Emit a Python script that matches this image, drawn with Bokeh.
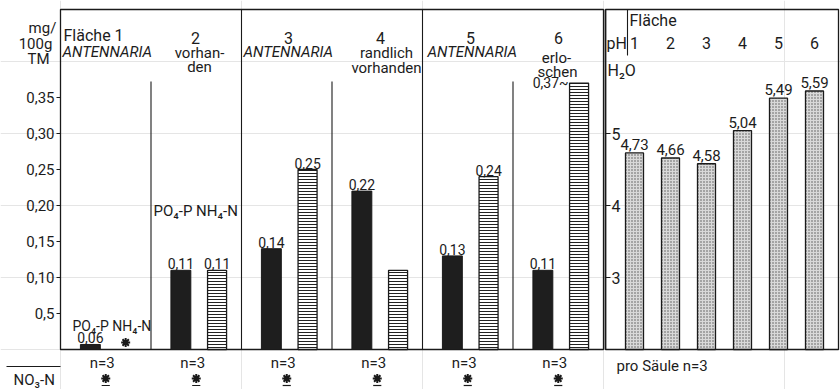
from bokeh.plotting import figure
from bokeh.models import Range1d, LinearAxis, FixedTicker, ColumnDataSource
from bokeh.core.properties import value
from bokeh.embed import file_html
from bokeh.resources import INLINE
import numpy as np

# ---------------- data ----------------
flaeche = ["1", "2", "3", "4", "5", "6"]
po4_p = [0.007, 0.11, 0.14, 0.22, 0.13, 0.11]
po4_p_labels = ["0,06", "0,11", "0,14", "0,22", "0,13", "0,11"]
nh4_n = [0.0, 0.11, 0.25, 0.11, 0.24, 0.37]
nh4_n_labels = ["", "0,11", "0,25", "", "0,24", "0,37"]
nh4_n_detected = [False, True, True, True, True, True]
no3_n_detected = [False, False, False, False, False, False]
ph_h2o = [4.73, 4.66, 4.58, 5.04, 5.49, 5.59]
ph_labels = ["4,73", "4,66", "4,58", "5,04", "5,49", "5,59"]
n_per_group = [3, 3, 3, 3, 3, 3]
mg_ticks = [0.05, 0.10, 0.15, 0.20, 0.25, 0.30, 0.35]
mg_tick_labels = ["0,5", "0,10", "0,15", "0,20", "0,25", "0,30", "0,35"]
ph_ticks = [3, 4, 5]

# ---------------- layout helpers (reference pixel -> data) ----------------
W, H = 840, 389
def lx(r): return (r - 60) / 90.5
def ly(r): return (349 - r) / 720.0
def px(r): return 1 + (r - 634) / 36.0
def py(r): return 2 + (349 - r) / 72.0

FONT = value("Roboto")
TXT = "#1c1c1c"
LN = "#1a1a1a"

p = figure(width=W, height=H, output_backend="svg", toolbar_location=None,
           x_range=Range1d(lx(0), lx(W)), y_range=Range1d(ly(H), ly(0)),
           x_axis_location=None, y_axis_location=None, min_border=0,
           outline_line_color=None, background_fill_color="white",
           border_fill_color="white")
p.extra_x_ranges = {"ph": Range1d(px(0), px(W))}
p.extra_y_ranges = {"ph": Range1d(py(H), py(0))}

# ---------------- axes ----------------
ax = LinearAxis(fixed_location=0, bounds=(0, ly(9)), ticker=FixedTicker(ticks=mg_ticks),
                major_label_overrides={t: l for t, l in zip(mg_ticks, mg_tick_labels)},
                major_tick_out=4, major_tick_in=0, minor_tick_line_color=None,
                major_label_standoff=2, axis_line_color=LN, major_tick_line_color=LN,
                major_label_text_font="Roboto", major_label_text_font_size="15px",
                major_label_text_color=TXT)
p.add_layout(ax, "left")

ax2 = LinearAxis(y_range_name="ph", fixed_location=lx(605), bounds=(2, py(9)),
                 ticker=FixedTicker(ticks=ph_ticks), major_tick_out=5, major_tick_in=0,
                 minor_tick_line_color=None, major_label_standoff=1,
                 axis_line_color=LN, axis_line_width=1.6, major_tick_line_color=LN,
                 major_label_text_font="Roboto", major_label_text_font_size="16px",
                 major_label_text_color=TXT)
p.add_layout(ax2, "right")

# ---------------- frames ----------------
p.quad(left=0, right=6, bottom=0, top=ly(9), fill_color=None, line_color=LN, line_width=1.3)
p.quad(left=px(605), right=px(838), bottom=2, top=py(9), fill_color=None, line_color=LN,
       line_width=1.3, x_range_name="ph", y_range_name="ph")
p.segment(x0=[1, 3, 5], y0=0, x1=[1, 3, 5], y1=ly(81), line_color=LN, line_width=1.1)
p.segment(x0=[2, 4], y0=0, x1=[2, 4], y1=ly(9), line_color=LN, line_width=1.1)
p.segment(x0=px(627), y0=py(55), x1=px(627), y1=py(9), line_color=LN, line_width=1.1,
          x_range_name="ph", y_range_name="ph")
p.segment(x0=lx(6), y0=ly(366), x1=0, y1=ly(366), line_color=LN, line_width=1.1)

# ---------------- nutrient bars ----------------
gx = np.arange(len(flaeche))
src_po4 = ColumnDataSource(dict(x=gx + 0.33, top=po4_p, lab=po4_p_labels))
p.vbar(x="x", top="top", bottom=0, width=0.22, source=src_po4,
       fill_color="#1e1e1e", line_color=LN, line_width=1)

det = [i for i, d in enumerate(nh4_n_detected) if d]
src_nh4 = ColumnDataSource(dict(x=[gx[i] + 0.73 for i in det], top=[nh4_n[i] for i in det]))
p.vbar(x="x", top="top", bottom=0, width=0.21, source=src_nh4,
       fill_color="white", line_color=LN, line_width=1.3,
       hatch_pattern="horizontal_line", hatch_scale=3, hatch_weight=1, hatch_color="#222")

p.text(x="x", y="top", text="lab", source=src_po4, text_font=FONT, text_font_size="14px",
       text_color=TXT, text_align="center", text_baseline="bottom", y_offset=-1)

lab_idx = [i for i in det if nh4_n_labels[i] and i != len(flaeche) - 1]
p.text(x=[gx[i] + 0.73 for i in lab_idx], y=[nh4_n[i] for i in lab_idx],
       text=[nh4_n_labels[i] for i in lab_idx], text_font=FONT, text_font_size="14px",
       text_color=TXT, text_align="center", text_baseline="bottom", y_offset=-1)
last = len(flaeche) - 1
p.text(x=[gx[last] + 0.73 - 0.105], y=[nh4_n[last]], text=[nh4_n_labels[last] + "~"],
       text_font=FONT, text_font_size="14px", text_color=TXT, text_align="right",
       text_baseline="middle", x_offset=-1)

# not detected -> asterisk markers
miss = [i for i, d in enumerate(nh4_n_detected) if not d]
p.scatter(x=[gx[i] + 0.72 for i in miss], y=ly(342), marker="asterisk", size=9,
          line_width=2, line_color=LN)

# ---------------- pH bars ----------------
ph_x = np.arange(1, len(flaeche) + 1)
src_ph = ColumnDataSource(dict(x=ph_x, top=ph_h2o, lab=ph_labels, f=flaeche))
p.vbar(x="x", top="top", bottom=2, width=0.5, source=src_ph, x_range_name="ph",
       y_range_name="ph", fill_color="#d9d9d9", line_color=LN, line_width=1.3,
       hatch_pattern="dot", hatch_scale=3, hatch_weight=1.2, hatch_color="#555")
p.text(x="x", y="top", text="lab", source=src_ph, x_range_name="ph", y_range_name="ph",
       text_font=FONT, text_font_size="15px", text_color=TXT, text_align="center",
       text_baseline="bottom", y_offset=-3)
p.text(x="x", y=py(42), text="f", source=src_ph, x_range_name="ph", y_range_name="ph",
       text_font=FONT, text_font_size="16px", text_color=TXT, text_align="center",
       text_baseline="middle")

# ---------------- header texts ----------------
def T(x, y, s, align="left", size="15px", style="normal", rng=None, base="middle"):
    kw = dict(x_range_name="ph", y_range_name="ph") if rng == "ph" else {}
    p.text(x=[x], y=[y], text=[s], text_font=FONT, text_font_size=size,
           text_font_style=style, text_color=TXT, text_align=align, text_baseline=base, **kw)

T(lx(42), ly(27), "mg/", "center", "15px")
T(lx(35), ly(43), "100g", "center", "15px")
T(lx(38), ly(58), "TM", "center", "15px")

T(lx(63), ly(35), "Fläche 1", "left", "16px")
T(lx(62), ly(51), "ANTENNARIA", "left", "15px", "italic")
T(lx(195), ly(37), "2", "center", "16px")
T(lx(199), ly(52), "vorhan-", "center", "15px")
T(lx(199), ly(66), "den", "center", "15px")
T(lx(288), ly(37), "3", "center", "16px")
T(lx(243), ly(51), "ANTENNARIA", "left", "15px", "italic")
T(lx(380), ly(37), "4", "center", "16px")
T(lx(386), ly(52), "randlich", "center", "15px")
T(lx(386), ly(67), "vorhanden", "center", "15px")
T(lx(470), ly(37), "5", "center", "16px")
T(lx(427), ly(51), "ANTENNARIA", "left", "15px", "italic")
T(lx(558), ly(37), "6", "center", "16px")
T(lx(556), ly(57), "erlo-", "center", "15px")
T(lx(557), ly(71), "schen", "center", "15px")

T(lx(72), ly(325), "PO₄-P NH₄-N", "left", "14px")
T(lx(153), ly(210), "PO₄-P  NH₄-N", "left", "15px")

T(px(606), py(43), "pH", "left", "16px", rng="ph")
T(px(629), py(20), "Fläche", "left", "16px", rng="ph")
T(px(607), py(70), "H₂O", "left", "16px", rng="ph")
T(px(616), py(365), "pro Säule n=3", "left", "15px", rng="ph")

# ---------------- bottom row ----------------
p.text(x=gx + 0.46, y=ly(362), text=[f"n={n}" for n in n_per_group], text_font=FONT,
       text_font_size="15px", text_color=TXT, text_align="center", text_baseline="middle")
T(lx(13), ly(379), "NO₃-N", "left", "15px")
nd = [i for i, d in enumerate(no3_n_detected) if not d]
p.scatter(x=[gx[i] + 0.5 for i in nd], y=ly(378), marker="asterisk", size=9,
          line_width=2, line_color=LN)
p.segment(x0=[gx[i] + 0.455 for i in nd], y0=ly(385), x1=[gx[i] + 0.545 for i in nd],
          y1=ly(385), line_color=LN, line_width=1.2)

open("out.html", "w").write(file_html(p, INLINE))
